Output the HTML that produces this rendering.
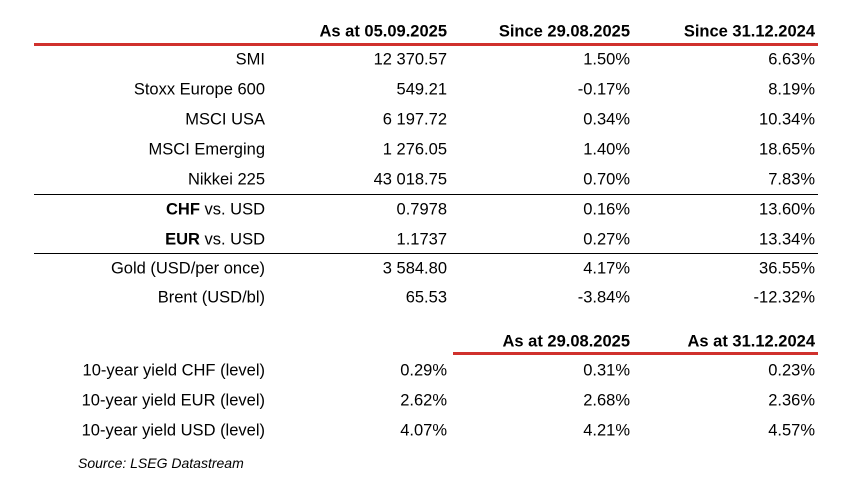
<!DOCTYPE html>
<html><head><meta charset="utf-8"><style>
body{margin:0;width:852px;height:488px;background:#fff;font-family:"Liberation Sans",Arial,sans-serif;color:#000;position:relative;overflow:hidden}
.t{position:absolute;font-size:16.5px;white-space:nowrap;transform:translateY(-50%);text-align:right}
.h{font-weight:bold}
.line{position:absolute}
</style></head><body>
<div id="tbl"></div>
<script>
const rows=[
["SMI","12 370.57","1.50%","6.63%"],
["Stoxx Europe 600","549.21","-0.17%","8.19%"],
["MSCI USA","6 197.72","0.34%","10.34%"],
["MSCI Emerging","1 276.05","1.40%","18.65%"],
["Nikkei 225","43 018.75","0.70%","7.83%"],
["<b>CHF</b> vs. USD","0.7978","0.16%","13.60%"],
["<b>EUR</b> vs. USD","1.1737","0.27%","13.34%"],
["Gold (USD/per once)","3 584.80","4.17%","36.55%"],
["Brent (USD/bl)","65.53","-3.84%","-12.32%"]];
const rowY=[60,90,120,150,180,210,240,269,298];
const yields=[
["10-year yield CHF (level)","0.29%","0.31%","0.23%"],
["10-year yield EUR (level)","2.62%","2.68%","2.36%"],
["10-year yield USD (level)","4.07%","4.21%","4.57%"]];
const yY=[371,401,431];
const rights=[265,447,630,815];
const t=document.getElementById('tbl');
function txt(s,right,y,name,bold){const d=document.createElement('div');d.className='t'+(bold?' h':'');


d.innerHTML=s;d.style.right=(852-right)+'px';d.style.top=y+'px';t.appendChild(d);}
function line(x,y,w,h,c,name){const d=document.createElement('div');d.className='line';


d.style.cssText+=`left:${x}px;top:${y}px;width:${w}px;height:${h}px;background:${c}`;t.appendChild(d);}
["As at 05.09.2025","Since 29.08.2025","Since 31.12.2024"].forEach((s,i)=>txt(s,rights[i+1],32,'column-header',true));
line(34,43,784,3,'#d0312d','header-rule');
rows.forEach((r,i)=>r.forEach((c,j)=>txt(c,rights[j],rowY[i],j?'cell':'row-label')));
line(34,194,784,1,'#000','group-rule');
line(34,253,784,1,'#000','group-rule');
["As at 29.08.2025","As at 31.12.2024"].forEach((s,i)=>txt(s,rights[i+2],342,'column-header',true));
line(453,352,365,3,'#d0312d','header-rule-yields');
yields.forEach((r,i)=>r.forEach((c,j)=>txt(c,rights[j],yY[i],j?'cell':'row-label')));
</script>
<div style="position:absolute;left:78px;top:455px;font-size:14px;font-style:italic">Source: LSEG Datastream</div>
</body></html>
